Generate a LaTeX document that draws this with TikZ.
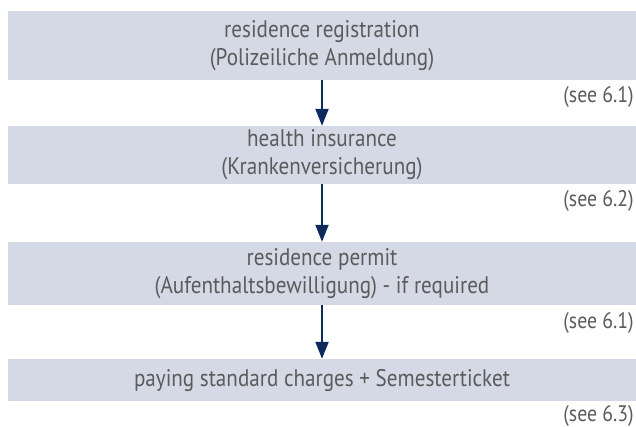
\documentclass[tikz,border=0pt]{standalone}
\usepackage{fontspec}
\setmainfont{PT Sans}[FakeStretch=0.88]
\usetikzlibrary{arrows.meta}
\definecolor{boxfill}{HTML}{D5D9E5}
\definecolor{txt}{HTML}{5A5B5D}
\definecolor{arrowc}{HTML}{0D2A5C}
\tikzset{
  stepbox/.style={fill=boxfill, draw=none, inner sep=0pt, minimum width=628pt,
    text=txt, align=center, font=\fontsize{24}{28}\selectfont},
  seelabel/.style={text=txt, inner sep=0pt, anchor=base east, font=\fontsize{22.5}{24}\selectfont},
  flow/.style={draw=arrowc, line width=2pt, -{Triangle[length=17pt,width=13pt]}}
}
\begin{document}
\begin{tikzpicture}[x=1pt,y=-1pt]
\useasboundingbox (0,0) rectangle (636,427);
\node[stepbox, minimum height=69pt] (b1) at (322,45.5) {residence registration\\(Polizeiliche Anmeldung)};
\node[stepbox, minimum height=58pt] (b2) at (322,155) {health insurance\\(Krankenversicherung)};
\node[stepbox, minimum height=63pt] (b3) at (322,273.5) {residence permit\\(Aufenthaltsbewilligung) - if required};
\node[stepbox, minimum height=42pt] (b4) at (322,380) {paying standard charges + Semesterticket};
\node[seelabel] (s1) at (634,103) {(see 6.1)};
\node[seelabel] (s2) at (634,207) {(see 6.2)};
\node[seelabel] (s3) at (634,328) {(see 6.1)};
\node[seelabel] (s4) at (634,421.5) {(see 6.3)};
\draw[flow] (b1.south) -- (b2.north);
\draw[flow] (b2.south) -- (b3.north);
\draw[flow] (b3.south) -- (b4.north);
\end{tikzpicture}
\end{document}
